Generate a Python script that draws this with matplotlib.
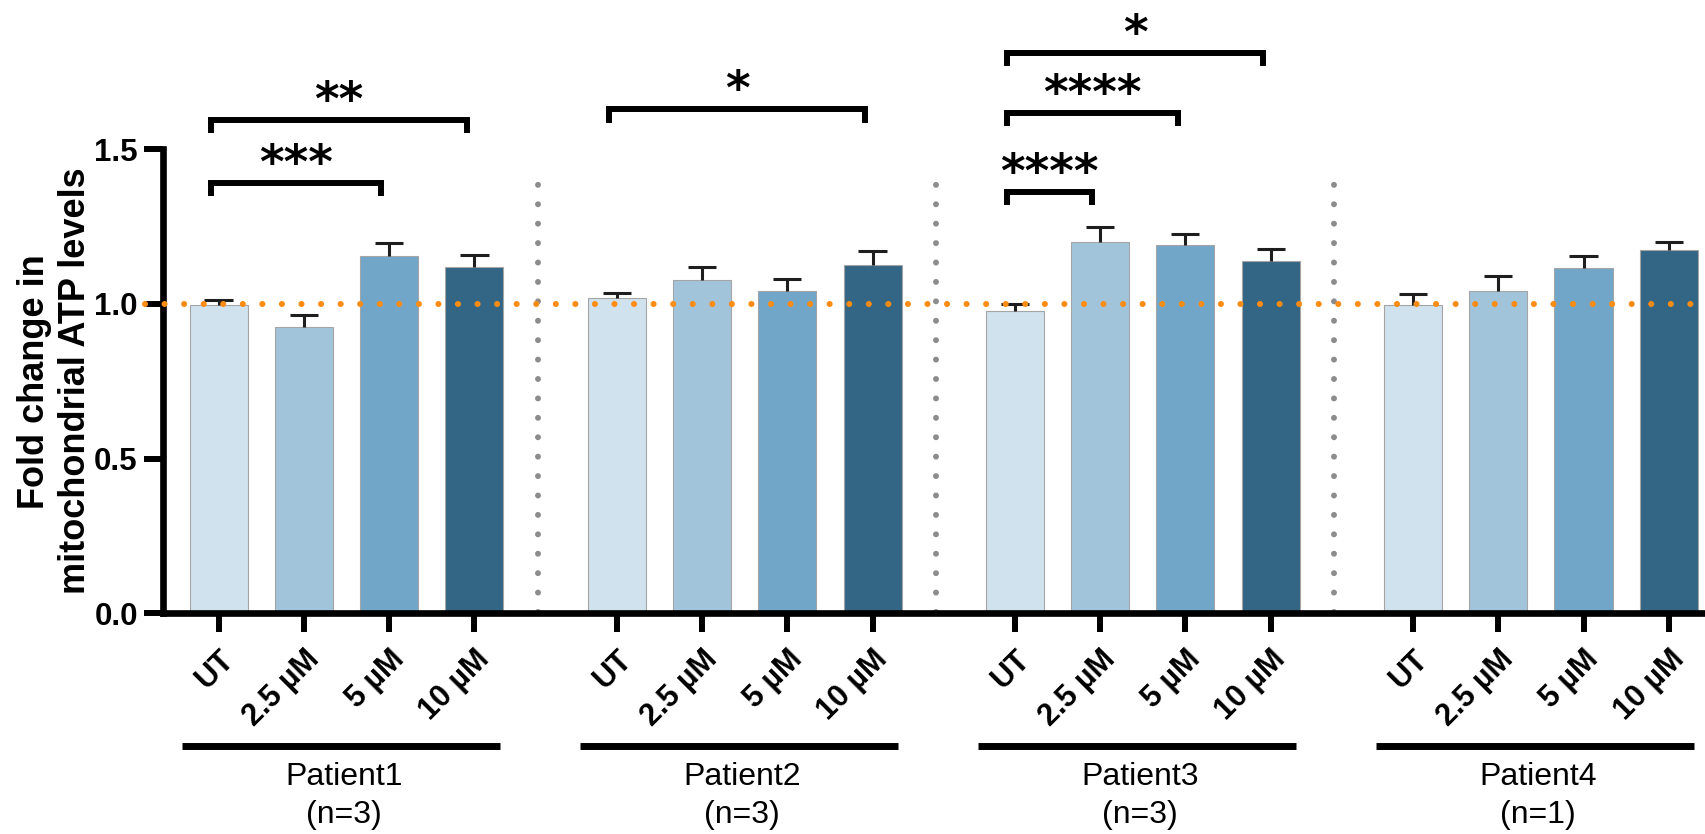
import matplotlib
matplotlib.use('Agg')
import matplotlib.pyplot as plt
from matplotlib.transforms import blended_transform_factory
import numpy as np

# data
patients = ['Patient1', 'Patient2', 'Patient3', 'Patient4']
n_reps = [3, 3, 3, 1]
treatments = ['UT', '2.5 µM', '5 µM', '10 µM']

p1_mean = [0.997, 0.927, 1.155, 1.119]
p1_sem = [0.016, 0.037, 0.043, 0.040]
p2_mean = [1.018, 1.078, 1.043, 1.127]
p2_sem = [0.018, 0.042, 0.037, 0.044]
p3_mean = [0.978, 1.201, 1.191, 1.140]
p3_sem = [0.021, 0.047, 0.036, 0.038]
p4_mean = [0.997, 1.042, 1.117, 1.176]
p4_sem = [0.036, 0.049, 0.037, 0.025]

# significance: (patient index, bar i, bar j, label)
sig_tests = [(0, 0, 2, '***'), (0, 0, 3, '**'), (1, 0, 3, '*'),
             (2, 0, 1, '****'), (2, 0, 2, '****'), (2, 0, 3, '*')]
bracket_y = [1.392, 1.594, 1.629, 1.363, 1.617, 1.812]

means = [p1_mean, p2_mean, p3_mean, p4_mean]
sems = [p1_sem, p2_sem, p3_sem, p4_sem]

bar_colors = ['#d0e2ee', '#a2c4db', '#71a6c9', '#336585']
orange = '#ff8c12'
grey = '#8c8c8c'
STEP = 4.667  # distance between groups in bar units

plt.rcParams['font.family'] = ['Liberation Sans', 'DejaVu Sans']

fig = plt.figure(figsize=(17.06, 8.34), dpi=100)
ax = fig.add_axes([0.0957, 0.2646, 0.9043, 0.5564])

xs, ys, es, cols, labels = [], [], [], [], []
for g in range(len(patients)):
    for i in range(len(treatments)):
        xs.append(g * STEP + i)
        ys.append(means[g][i])
        es.append(sems[g][i])
        cols.append(bar_colors[i])
        labels.append(treatments[i])
xs = np.array(xs)
ys = np.array(ys)
es = np.array(es)

ax.bar(xs, ys, width=0.68, color=cols, edgecolor='#a5a5a5', linewidth=0.8, zorder=2)
# upper error bars only (GraphPad style)
ax.vlines(xs, ys, ys + es, color='#1e1e1e', lw=2.2, zorder=3)
ax.hlines(ys + es, xs - 0.165, xs + 0.165, color='#1e1e1e', lw=2.2, zorder=3)

# reference line at 1.0
ax.plot([-0.863, 17.437], [1, 1], color=orange, lw=4.4, linestyle=(0, (0.001, 3.2)),
        dash_capstyle='round', clip_on=False, zorder=5)

# grey dotted separators
for g in range(len(patients) - 1):
    sx = g * STEP + 3.74
    ax.plot([sx, sx], [0.005, 1.44], color=grey, lw=4.3, linestyle=(0, (0.001, 3.25)),
            dash_capstyle='round', zorder=1)

# significance brackets
for (g, i, j, lab), by in zip(sig_tests, bracket_y):
    x1 = g * STEP + i - 0.09
    x2 = g * STEP + j - 0.09
    ax.plot([x1, x1, x2, x2], [by - 0.033, by, by, by - 0.033], color='k', lw=4.3,
            solid_capstyle='projecting', solid_joinstyle='miter', clip_on=False)
    ax.annotate(lab, xy=((x1 + x2) / 2, by), xytext=(0, 3.6), textcoords='offset points',
                ha='center', va='baseline', fontsize=34, fontweight='bold',
                family='DejaVu Sans', annotation_clip=False)

ax.set_xlim(-0.648, 17.437)
ax.set_ylim(0, 1.5)
ax.set_yticks([0, 0.5, 1.0, 1.5])
ax.set_yticklabels(['0.0', '0.5', '1.0', '1.5'], fontsize=22.5, fontweight='bold')
ax.set_xticks(xs)
ax.set_xticklabels(labels, rotation=45, ha='right', va='top', rotation_mode='anchor',
                   fontsize=22, fontweight='bold')
ax.tick_params(axis='both', length=13.5, width=4.3, color='k')
ax.tick_params(axis='y', pad=4.8)
ax.tick_params(axis='x', pad=9)

for s in ['top', 'right']:
    ax.spines[s].set_visible(False)
for s in ['left', 'bottom']:
    ax.spines[s].set_linewidth(4.8)

fig.text(0.0322, 0.543, 'Fold change in\nmitochondrial ATP levels', rotation=90,
         ha='center', va='center', fontsize=26, fontweight='bold',
         linespacing=1.25, multialignment='center')

# group labels below the ticks
tr = blended_transform_factory(ax.transData, fig.transFigure)
for g, (name, n) in enumerate(zip(patients, n_reps)):
    x0 = g * STEP
    ax.plot([x0 - 0.43, x0 + 3.30], [0.1059, 0.1059], color='k', lw=5,
            transform=tr, clip_on=False, solid_capstyle='butt')
    ax.text(x0 + 1.47, 0.0588, name, transform=tr, ha='center', va='baseline', fontsize=23)
    ax.text(x0 + 1.47, 0.0135, f'(n={n})', transform=tr, ha='center', va='baseline', fontsize=23)

fig.savefig('out.png', dpi=100)
